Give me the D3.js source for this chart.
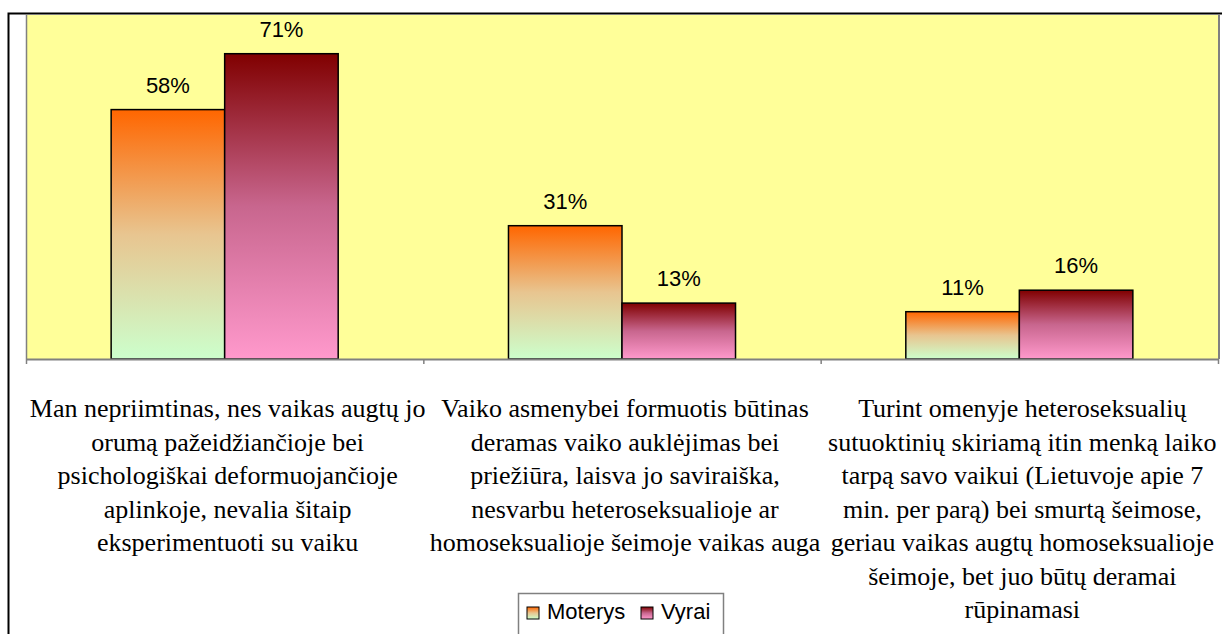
<!DOCTYPE html>
<html>
<head>
<meta charset="utf-8">
<script src="https://cdn.jsdelivr.net/npm/d3@7"></script>
<style>
  body { margin: 0; background: #ffffff; overflow: hidden; }
  svg { display: block; }
</style>
</head>
<body>
<div class="plot"></div>
<script>
// data
const categories = ["c1", "c2", "c3"]
const categoryLines = [
  ["Man nepriimtinas, nes vaikas augtų jo", "orumą pažeidžiančioje bei", "psichologiškai deformuojančioje", "aplinkoje, nevalia šitaip", "eksperimentuoti su vaiku"],
  ["Vaiko asmenybei formuotis būtinas", "deramas vaiko auklėjimas bei", "priežiūra, laisva jo saviraiška,", "nesvarbu heteroseksualioje ar", "homoseksualioje šeimoje vaikas auga"],
  ["Turint omenyje heteroseksualių", "sutuoktinių skiriamą itin menką laiko", "tarpą savo vaikui (Lietuvoje apie 7", "min. per parą) bei smurtą šeimose,", "geriau vaikas augtų homoseksualioje", "šeimoje, bet juo būtų deramai", "rūpinamasi"]
]
const seriesNames = ["Moterys", "Vyrai"]
const moterys = [0.58, 0.31, 0.11]
const vyrai = [0.71, 0.13, 0.16]
const yMax = 0.8

const W = 1222, H = 634
const plot = {left: 26, right: 1218, top: 15, bottom: 359}
const serifFont = "Liberation Serif"
const sansFont = "Liberation Sans"

let svg = d3.select(".plot")
  .append("svg")
  .attr("width", W)
  .attr("height", H)

// gradients (top, middle, bottom)
let defs = svg.append("defs")
const gradColors = {Moterys: ["#ff6600", "#e8c590", "#ccffcc"], Vyrai: ["#800000", "#c8668e", "#ff99cc"]}
seriesNames.forEach(function(s){
  let g = defs.append("linearGradient")
    .attr("id", "grad-" + s)
    .attr("x1", 0).attr("y1", 0).attr("x2", 0).attr("y2", 1)
  g.append("stop").attr("offset", "0%").attr("stop-color", gradColors[s][0])
  g.append("stop").attr("offset", "50%").attr("stop-color", gradColors[s][1])
  g.append("stop").attr("offset", "100%").attr("stop-color", gradColors[s][2])
})

// outer chart frame
svg.append("rect")
  .attr("x", 8.5).attr("y", 13.5)
  .attr("width", W).attr("height", H)
  .attr("fill", "#ffffff")
  .attr("stroke", "#000000")
  .attr("stroke-width", 2)

// plot area
svg.append("rect")
  .attr("x", plot.left).attr("y", plot.top)
  .attr("width", plot.right - plot.left)
  .attr("height", plot.bottom - plot.top)
  .attr("fill", "#ffff99")
svg.append("line")
  .attr("x1", plot.left + 0.5).attr("x2", plot.left + 0.5)
  .attr("y1", plot.top).attr("y2", plot.bottom)
  .attr("stroke", "#808080").attr("stroke-width", 1.5)
svg.append("line")
  .attr("x1", plot.right + 1).attr("x2", plot.right + 1)
  .attr("y1", plot.top).attr("y2", plot.bottom)
  .attr("stroke", "#808080").attr("stroke-width", 2)

// scales
let x0 = d3.scaleBand()
  .domain(categories)
  .range([plot.left, plot.right])
let x1 = d3.scaleBand()
  .domain(seriesNames)
  .range([0, x0.bandwidth()])
  .paddingOuter(0.75)
let y = d3.scaleLinear()
  .domain([0, yMax])
  .range([plot.bottom, plot.top])

let rows = categories.map(function(c, i){
  return {cat: c, values: [{s: "Moterys", v: moterys[i]}, {s: "Vyrai", v: vyrai[i]}]}
})

// bars
let groups = svg.selectAll(".group")
  .data(rows)
  .enter()
  .append("g")
  .attr("class", "group")
  .attr("transform", function(d){ return "translate(" + x0(d.cat) + ",0)" })

groups.selectAll("rect")
  .data(function(d){ return d.values })
  .enter()
  .append("rect")
  .attr("x", function(d){ return x1(d.s) })
  .attr("y", function(d){ return y(d.v) })
  .attr("width", x1.bandwidth())
  .attr("height", function(d){ return y(0) - y(d.v) })
  .attr("fill", function(d){ return "url(#grad-" + d.s + ")" })
  .attr("stroke", "#000000")
  .attr("stroke-width", 1.5)

// value labels
groups.selectAll(".val")
  .data(function(d){ return d.values })
  .enter()
  .append("text")
  .attr("class", "val")
  .attr("x", function(d){ return x1(d.s) + x1.bandwidth() / 2 })
  .attr("y", function(d){ return y(d.v) - 17 })
  .attr("text-anchor", "middle")
  .attr("font-family", sansFont)
  .attr("font-size", 22)
  .attr("fill", "#000000")
  .text(function(d){ return Math.round(d.v * 100) + "%" })

// x axis
let xAxis = d3.axisBottom(x0)
  .tickSize(0)
  .tickFormat("")
let axisG = svg.append("g")
  .attr("transform", "translate(0," + plot.bottom + ")")
  .call(xAxis)
axisG.select(".domain").attr("stroke", "#808080").attr("stroke-width", 2)
let boundaries = categories.map(function(c){ return x0(c) }).concat([plot.right])
axisG.selectAll(".bound")
  .data(boundaries)
  .enter()
  .append("line")
  .attr("class", "bound")
  .attr("x1", function(d){ return d + 0.5 })
  .attr("x2", function(d){ return d + 0.5 })
  .attr("y1", 0).attr("y2", 5)
  .attr("stroke", "#808080")
  .attr("stroke-width", 1.5)

// category labels
let catLabels = svg.append("g")
  .attr("class", "catlabels")
  .selectAll("text")
  .data(categories)
  .enter()
  .append("text")
  .attr("text-anchor", "middle")
  .attr("font-family", serifFont)
  .attr("font-size", 26)
  .attr("fill", "#000000")
catLabels.selectAll("tspan")
  .data(function(d, i){ return categoryLines[i].map(function(t){ return {t: t, c: d} }) })
  .enter()
  .append("tspan")
  .attr("x", function(d){ return x0(d.c) + x0.bandwidth() / 2 + 3 })
  .attr("y", function(d, i){ return 417 + i * 33.5 })
  .text(function(d){ return d.t })

// legend
let legend = svg.append("g").attr("class", "legend")
legend.append("rect")
  .attr("x", 518.5).attr("y", 593.5)
  .attr("width", 205).attr("height", 50)
  .attr("fill", "#ffffff")
  .attr("stroke", "#808080")
  .attr("stroke-width", 1.5)
const legendX = [527, 641]
let items = legend.selectAll(".item")
  .data(seriesNames)
  .enter()
  .append("g")
  .attr("class", "item")
  .attr("transform", function(d, i){ return "translate(" + legendX[i] + ",607)" })
items.append("rect")
  .attr("width", 12).attr("height", 12)
  .attr("fill", function(d){ return "url(#grad-" + d + ")" })
  .attr("stroke", "#000000")
  .attr("stroke-width", 1)
items.append("text")
  .attr("x", 20)
  .attr("y", 12)
  .attr("font-family", sansFont)
  .attr("font-size", 22)
  .attr("fill", "#000000")
  .text(function(d){ return d })
</script>
</body>
</html>
